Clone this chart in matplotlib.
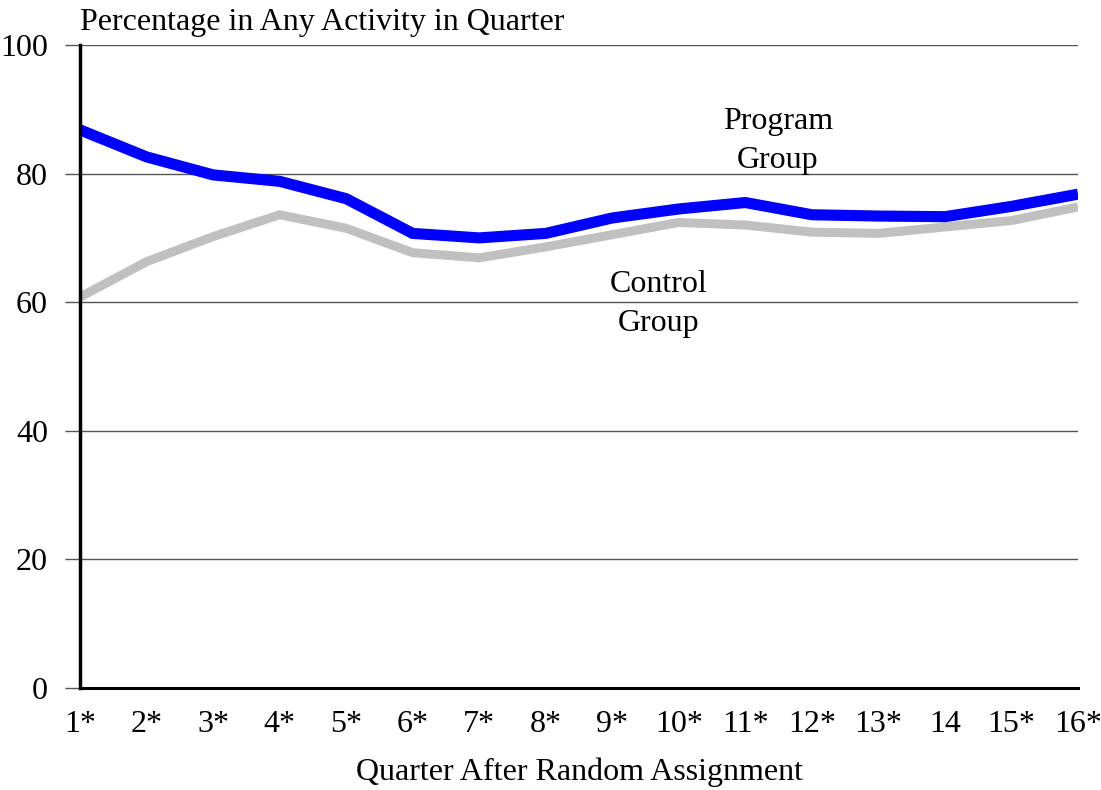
import matplotlib
matplotlib.use("Agg")
import matplotlib.pyplot as plt

quarters = ["1*", "2*", "3*", "4*", "5*", "6*", "7*", "8*", "9*", "10*", "11*", "12*", "13*", "14", "15*", "16*"]
program = [86.8, 82.6, 79.8, 78.8, 76.1, 70.7, 70.0, 70.7, 73.1, 74.5, 75.5, 73.6, 73.4, 73.3, 74.9, 76.8]
control = [60.8, 66.3, 70.2, 73.6, 71.5, 67.7, 66.9, 68.6, 70.5, 72.4, 72.0, 70.9, 70.7, 71.7, 72.7, 74.8]
yticks = [0, 20, 40, 60, 80, 100]

plt.rcParams['font.family'] = ['Liberation Serif', 'DejaVu Serif']
FS = 23

fig = plt.figure(figsize=(11.01, 7.90), dpi=100)
ax = fig.add_axes([80/1101, 1-688/790, (1078-80)/1101, (688-45)/790])

x = list(range(1, len(quarters) + 1))
ax.plot(x, control, color="#C0C0C0", lw=6.5, solid_joinstyle="miter", solid_capstyle="butt", zorder=3)
ax.plot(x, program, color="#0000FF", lw=8.0, solid_joinstyle="miter", solid_capstyle="butt", zorder=4)

ax.set_xlim(1, 16)
ax.set_ylim(0, 100)
ax.set_yticks(yticks)
ax.set_yticklabels([str(v) for v in yticks], fontsize=FS)
ax.set_xticks(x)
ax.set_xticklabels(quarters, fontsize=FS)
ax.tick_params(axis='x', length=0, pad=16)
ax.tick_params(axis='y', length=11, width=1, color="#555555", pad=12, direction='out')

for v in yticks[1:]:
    ax.axhline(v, color="#555555", lw=1.0, zorder=1)

for s in ["top", "right"]:
    ax.spines[s].set_visible(False)
ax.spines["left"].set_linewidth(2.5)
ax.spines["left"].set_zorder(5)
ax.spines["bottom"].set_linewidth(2.2)

ax.text(0.0, 1.012, "Percentage in Any Activity in Quarter", transform=ax.transAxes,
        fontsize=FS, ha="left", va="bottom")
ax.set_xlabel("Quarter After Random Assignment", fontsize=FS, labelpad=13)

ax.text(11.49, 85.1, "Program\nGroup", fontsize=FS, ha="center", va="center", linespacing=1.45)
ax.text(9.70, 59.7, "Control\nGroup", fontsize=FS, ha="center", va="center", linespacing=1.45)

fig.savefig("out.png", dpi=100)
